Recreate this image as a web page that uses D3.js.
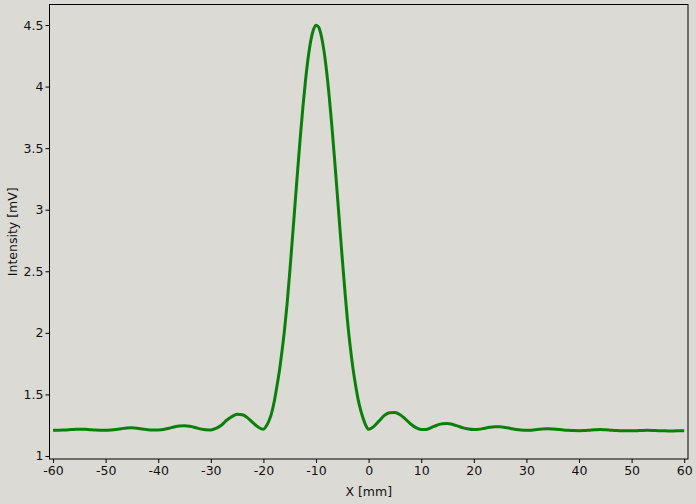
<!DOCTYPE html>
<html><head><meta charset="utf-8">
<script src="https://cdn.jsdelivr.net/npm/d3@7"></script>
<style>
html,body{margin:0;padding:0;background:#dcdad5;}
svg{display:block;font-family:"DejaVu Sans",sans-serif;}
</style></head>
<body><svg id="c" width="696" height="504"></svg>
<script>
// Data
const xValues = [
 -60,-59,-58,-57,-56,-55,-54,-53,-52,-51,-50,-49,-48,-47,-46,-45,-44,-43,-42,-41,
 -40,-39,-38,-37,-36,-35,-34,-33,-32,-31,-30,-29,-28,-27,-26,-25,-24,-23,-22,-21,
 -20,-19.5,-19,-18.5,-18,-17.5,-17,-16.5,-16,-15.5,-15,-14.5,-14,-13.5,-13,-12.5,-12,-11.5,-11,-10.5,
 -10,-9.5,-9,-8.5,-8,-7.5,-7,-6.5,-6,-5.5,-5,-4.5,-4,-3.5,-3,-2.5,-2,-1.5,-1,-0.5,
 0,1,2,3,4,5,6,7,8,9,10,11,12,13,14,15,16,17,18,19,
 20,21,22,23,24,25,26,27,28,29,30,31,32,33,34,35,36,37,38,39,
 40,41,42,43,44,45,46,47,48,49,50,51,52,53,54,55,56,57,58,59,60
];
const intensity = [
 1.210,1.210,1.211,1.213,1.216,1.218,1.217,1.214,1.211,1.210,1.210,1.212,1.216,1.222,1.228,1.229,1.226,1.220,1.214,1.211,
 1.212,1.216,1.225,1.236,1.244,1.246,1.242,1.232,1.220,1.213,1.212,1.225,1.250,1.290,1.320,1.338,1.335,1.310,1.270,1.235,
 1.217,1.240,1.280,1.340,1.430,1.550,1.680,1.840,2.020,2.235,2.490,2.761,3.039,3.316,3.584,3.832,4.049,4.232,4.371,4.461,
 4.499,4.483,4.413,4.294,4.128,3.923,3.687,3.425,3.151,2.872,2.597,2.336,2.092,1.890,1.720,1.580,1.460,1.370,1.300,1.245,
 1.217,1.240,1.285,1.330,1.352,1.354,1.335,1.300,1.260,1.230,1.215,1.216,1.232,1.250,1.262,1.264,1.256,1.242,1.228,1.219,
 1.215,1.217,1.225,1.233,1.238,1.238,1.232,1.224,1.216,1.211,1.209,1.210,1.215,1.219,1.221,1.220,1.216,1.212,1.209,1.207,
 1.206,1.207,1.210,1.213,1.215,1.213,1.210,1.207,1.205,1.205,1.205,1.206,1.208,1.209,1.208,1.206,1.205,1.204,1.204,1.205,1.206
];
const xTicks = [-60,-50,-40,-30,-20,-10,0,10,20,30,40,50,60];
const yTicks = [1,1.5,2,2.5,3,3.5,4,4.5];
const xTitle = "X [mm]";
const yTitle = "Intensity [mV]";

const svg = d3.select("#c");
const L = 49.5, R = 688, T = 4.5, B = 459;
const x = d3.scaleLinear().domain([-60.67, 60.72]).range([L, R]);
const y = d3.scaleLinear().domain([0.9756, 4.6665]).range([B, T]);

const pts = xValues.map((v, i) => [v, intensity[i]]);

// data
svg.append("path")
  .datum(pts)
  .attr("fill", "none")
  .attr("stroke", "#0a800a")
  .attr("stroke-width", 3)
  .attr("stroke-linejoin", "round")
  .attr("d", d3.line().x(d => x(d[0])).y(d => y(d[1])).curve(d3.curveMonotoneX));

// frame
svg.append("rect").attr("x", L).attr("y", T).attr("width", R - L).attr("height", B - T)
  .attr("fill", "none").attr("stroke", "#000").attr("stroke-width", 1);

// axes
const xAxis = d3.axisBottom(x).tickValues(xTicks).tickSize(4).tickPadding(3).tickFormat(d3.format("d"));
const gx = svg.append("g").attr("transform", `translate(0,${B})`).call(xAxis);
const yAxis = d3.axisLeft(y).tickValues(yTicks).tickSize(4).tickPadding(2).tickFormat(d => String(d));
const gy = svg.append("g").attr("transform", `translate(${L},0)`).call(yAxis);
[gx, gy].forEach(g => {
  g.select(".domain").remove();
  g.selectAll("text").attr("font-size", 12.5).attr("font-family", "DejaVu Sans, sans-serif").attr("fill", "#111");
  g.selectAll("line").attr("stroke", "#000");
});
gx.selectAll("text").text(d => d < 0 ? "-" + Math.abs(d) : String(d));

svg.append("text").attr("x", (L + R) / 2).attr("y", 496).attr("text-anchor", "middle")
  .attr("font-size", 12.5).attr("fill", "#111").text(xTitle);
svg.append("text").attr("transform", `translate(17,${(T + B) / 2}) rotate(-90)`).attr("text-anchor", "middle")
  .attr("font-size", 12.5).attr("fill", "#111").text(yTitle);
</script></body></html>
